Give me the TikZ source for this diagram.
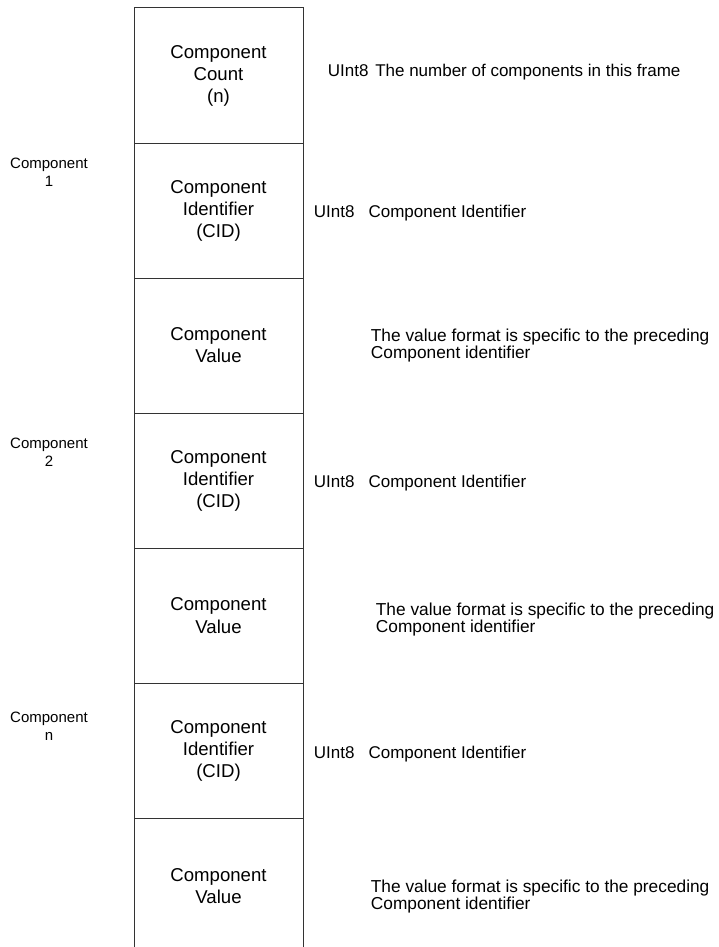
\documentclass[tikz,border=0pt]{standalone}
\usepackage{fontspec}
\setmainfont{Liberation Sans}
\usetikzlibrary{positioning}
\definecolor{framegray}{gray}{.2}
\newcommand{\fieldwidth}{84.5pt}
\newcommand{\fieldheight}{67.5pt}
\newcommand{\typegap}{\hspace{7pt}}
\tikzset{
    field/.style={draw=framegray, line width=0.5pt, rectangle, inner sep=0pt,
        minimum width=\fieldwidth, minimum height=\fieldheight, align=center,
        font=\fontsize{9.3}{11}\selectfont},
    desc/.style={anchor=west, align=left, inner sep=0pt, font=\fontsize{8.5}{8.8}\selectfont},
    valuedesc/.style={desc, font=\fontsize{8.65}{8.8}\selectfont},
    group/.style={align=center, inner sep=0pt, font=\fontsize{7.5}{9}\selectfont}
}
\begin{document}
\begin{tikzpicture}[x=0.5pt, y=-0.5pt]
      \clip (0,0) rectangle (718,947);
      \path
          (218.5,75.5) node[field] (count) {Component\\Count\\(n)}
          ++(0,135) node[field] (cid1) {Component\\Identifier\\(CID)}
          ++(0,135) node[field] (value1) {Component\\Value}
          ++(0,135) node[field] (cid2) {Component\\Identifier\\(CID)}
          ++(0,135) node[field, text depth=-1pt] (value2) {Component\\Value}
          ++(0,135) node[field] (cidn) {Component\\Identifier\\(CID)}
          ++(0,135) node[field, text depth=-1pt] (valuen) {Component\\Value};

      % field descriptions
      \node[desc, right=12pt of count, yshift=1.5pt] (count-desc) {UInt8\hspace{1pt} The number of components in this frame};
      \node[desc, right=5pt of cid1, yshift=-1.5pt] (cid1-desc) {UInt8\typegap Component Identifier};
      \node[valuedesc, right=33.5pt of value1] (value1-desc) {The value format is specific to the preceding\\Component identifier};
      \node[desc, right=5pt of cid2, yshift=-1.5pt] (cid2-desc) {UInt8\typegap Component Identifier};
      \node[valuedesc, right=36pt of value2, yshift=-2pt] (value2-desc) {The value format is specific to the preceding\\Component identifier};
      \node[desc, right=5pt of cidn, yshift=-2pt] (cidn-desc) {UInt8\typegap Component Identifier};
      \node[valuedesc, right=33.5pt of valuen, yshift=-5.5pt] (valuen-desc) {The value format is specific to the preceding\\Component identifier};

      % component groups
      \node[group] (group1) at (49,172) {Component\\1};
      \node[group] (group2) at (49,452) {Component\\2};
      \node[group] (groupn) at (49,726) {Component\\n};
\end{tikzpicture}
\end{document}
